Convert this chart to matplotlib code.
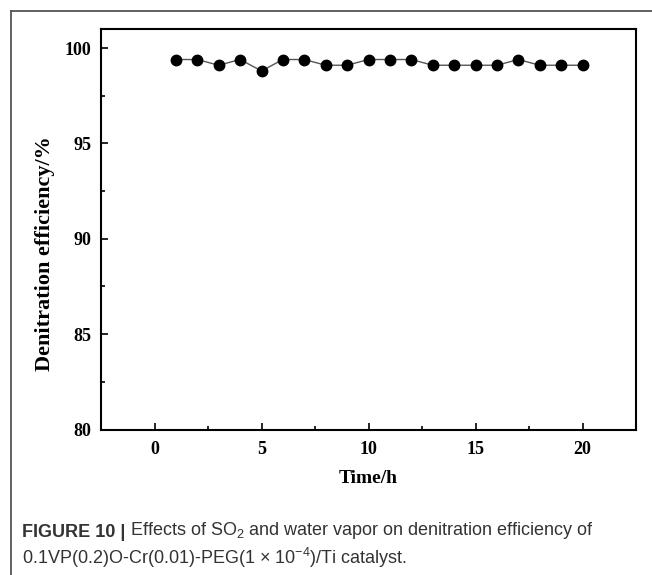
import matplotlib
matplotlib.use("Agg")
import matplotlib.pyplot as plt
from matplotlib.lines import Line2D
from matplotlib.ticker import MultipleLocator

# data
time_h = [1, 2, 3, 4, 5, 6, 7, 8, 9, 10, 11, 12, 13, 14, 15, 16, 17, 18, 19, 20]
efficiency = [99.4, 99.4, 99.1, 99.4, 98.8, 99.4, 99.4, 99.1, 99.1, 99.4,
              99.4, 99.4, 99.1, 99.1, 99.1, 99.1, 99.4, 99.1, 99.1, 99.1]
x_ticks = [0, 5, 10, 15, 20]
y_ticks = [80, 85, 90, 95, 100]

plt.rcParams['mathtext.fontset'] = 'custom'
plt.rcParams['mathtext.rm'] = 'Liberation Sans'
plt.rcParams['mathtext.it'] = 'Liberation Sans:italic'
plt.rcParams['mathtext.bf'] = 'Liberation Sans:bold'

W, H = 652, 575
fig = plt.figure(figsize=(W / 100, H / 100), dpi=100)
ax = fig.add_axes([101 / W, 1 - 429.5 / H, (636 - 101) / W, (429.5 - 29) / H])

ax.plot(time_h, efficiency, color='#555555', lw=1.0, marker='o',
        markersize=7.5, markerfacecolor='black', markeredgecolor='black')

ax.set_xlim(-2.5, 22.5)
ax.set_ylim(80, 101)
ax.set_xticks(x_ticks)
ax.set_yticks(y_ticks)
ax.xaxis.set_minor_locator(MultipleLocator(2.5))
ax.yaxis.set_minor_locator(MultipleLocator(2.5))
ax.tick_params(which='both', direction='in', width=1.2)
ax.tick_params(which='major', length=5, labelsize=13)
ax.tick_params(axis='x', which='major', pad=8)
ax.tick_params(axis='y', which='major', pad=7)
ax.tick_params(which='minor', length=3)
for lab in ax.get_xticklabels() + ax.get_yticklabels():
    lab.set_fontfamily('Liberation Serif')
    lab.set_fontweight('bold')
for s in ax.spines.values():
    s.set_linewidth(1.5)

ax.set_xlabel('Time/h', fontfamily='Liberation Serif', fontweight='bold',
              fontsize=14, labelpad=9)
fig.text(45 / W, 1 - 254 / H, 'Denitration efficiency/%', rotation=90,
         ha='center', va='center', fontfamily='Liberation Serif',
         fontweight='bold', fontsize=16)

# open frame around the figure (top and left only)
fx = 10.5 / W
fy = 1 - 10.5 / H
fig.add_artist(Line2D([fx, 1], [fy, fy], transform=fig.transFigure,
                      color='#555555', lw=1.3))
fig.add_artist(Line2D([fx, fx], [fy, 0], transform=fig.transFigure,
                      color='#555555', lw=1.3))

# caption
cap_x = 22 / W
t1 = fig.text(cap_x, 1 - 537 / H, 'FIGURE 10 |', fontfamily='Liberation Sans',
              fontweight='bold', fontsize=13, color='#333333')
ax.annotate(' Effects of SO$_2$ and water vapor on denitration efficiency of',
            xy=(1, 0), xycoords=t1, fontfamily='Liberation Sans', fontsize=13,
            color='#333333', va='bottom', annotation_clip=False)
fig.text(cap_x, 1 - 564 / H,
         '0.1VP(0.2)O-Cr(0.01)-PEG(1 $\\times$ 10$^{-4}$)/Ti catalyst.',
         fontfamily='Liberation Sans', fontsize=13, color='#333333')

fig.savefig('out.png', dpi=100)
